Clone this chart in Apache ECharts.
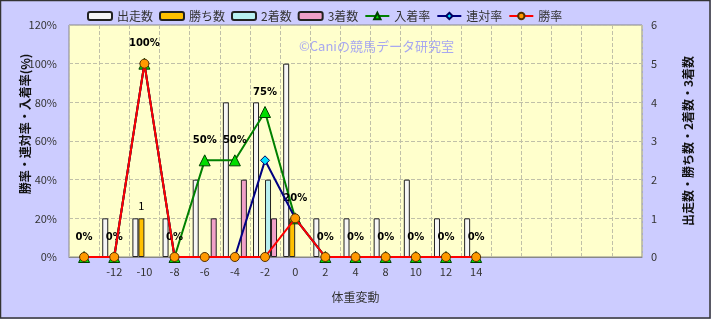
<!DOCTYPE html>
<html><head><meta charset="utf-8">
<script src="https://cdn.jsdelivr.net/npm/echarts@6/dist/echarts.min.js"></script>
<style>html,body{margin:0;padding:0;background:#ccccff}#c{width:711px;height:319px}</style>
</head><body><div id="c"></div>
<script>
const categories = ['', '-12', '-10', '-8', '-6', '-4', '-2', '0', '2', '4', '8', '10', '12', '14', ' ', '  ', '   ', '    ', '     '];
const starts   = [0, 1, 1, 1, 2, 4, 4, 5, 1, 1, 1, 2, 1, 1, null, null, null, null, null];
const wins     = [0, 0, 1, 0, 0, 0, 0, 1, 0, 0, 0, 0, 0, 0, null, null, null, null, null];
const seconds  = [0, 0, 0, 0, 0, 0, 2, 0, 0, 0, 0, 0, 0, 0, null, null, null, null, null];
const thirds   = [0, 0, 0, 0, 1, 2, 1, 0, 0, 0, 0, 0, 0, 0, null, null, null, null, null];
const placeRate = [0, 0, 100, 0, 50, 50, 75, 20, 0, 0, 0, 0, 0, 0, null, null, null, null, null];
const rentaiRate = [0, 0, 100, 0, 0, 0, 50, 20, 0, 0, 0, 0, 0, 0, null, null, null, null, null];
const winRate  = [0, 0, 100, 0, 0, 0, 0, 20, 0, 0, 0, 0, 0, 0, null, null, null, null, null];
const leftTicks = [0, 20, 40, 60, 80, 100, 120];
const rightTicks = [0, 1, 2, 3, 4, 5, 6];

const FONT = '"Noto Sans CJK JP", "Noto Sans", sans-serif';
const chart = echarts.init(document.getElementById('c'));
const barStyle = (c) => ({ color: c, borderColor: '#222', borderWidth: 1 });
// zero-count bars are not drawn (as in the reference)
const bars = (arr) => arr.map(v => (v === 0 ? null : v));
const winsData = bars(wins).map((v, i) => i === 2 ? { value: v, label: { show: true, position: 'top', distance: 7, color: '#000', fontSize: 11, fontFamily: FONT } } : v);

chart.setOption({
  backgroundColor: '#ccccff',
  textStyle: { fontFamily: FONT },
  animation: false,
  legend: {
    left: 82, top: 5,
    itemGap: 6,
    itemWidth: 24, itemHeight: 8,
    textStyle: { fontSize: 12, color: '#333', fontFamily: FONT },
    data: ['出走数', '勝ち数', '2着数', '3着数', '入着率', '連対率', '勝率']
  },
  grid: { left: 69, right: 69, top: 25, bottom: 62, show: true, backgroundColor: '#ffffcc', borderColor: '#888', borderWidth: 1 },
  xAxis: {
    type: 'category', data: categories,
    name: '体重変動', nameLocation: 'middle', nameGap: 34,
    nameTextStyle: { fontSize: 12, color: '#333', fontFamily: FONT },
    axisLine: { lineStyle: { color: '#888' } },
    axisTick: { show: false },
    axisLabel: { color: '#333', fontSize: 11, margin: 9 },
    splitLine: { show: true, lineStyle: { color: '#c0c0a8', type: 'dashed' } }
  },
  yAxis: [
    {
      type: 'value', min: 0, max: 120, interval: 20,
      axisLine: { show: false }, axisTick: { show: false },
      axisLabel: { color: '#333', fontSize: 11, formatter: '{value}%', margin: 12 },
      splitLine: { show: true, lineStyle: { color: '#c0c0a8', type: 'dashed' } }
    },
    {
      type: 'value', min: 0, max: 6, interval: 1,
      name: '出走数・勝ち数・2着数・3着数', nameLocation: 'middle', nameGap: 40, nameRotate: 90,
      nameTextStyle: { fontSize: 12, color: '#111', fontWeight: 'bold', fontFamily: FONT },
      axisLine: { show: false }, axisTick: { show: false },
      axisLabel: { color: '#333', fontSize: 11, margin: 9 },
      splitLine: { show: false }
    }
  ],
  graphic: [
    { type: 'text', left: 299, top: 40, z: 1, style: { text: '©Caniの競馬データ研究室', fill: '#a8a8f0', font: '13px ' + FONT } },
    { type: 'text', x: 25, y: 124, rotation: Math.PI / 2, z: 10,
      style: { text: '勝率・連対率・入着率(%)', fill: '#111', font: 'bold 12px ' + FONT, align: 'center', verticalAlign: 'middle' } },
    { type: 'rect', shape: { x: 0.5, y: 0.5, width: 709.5, height: 317.5 }, style: { fill: 'none', stroke: '#333', lineWidth: 1.5 }, silent: true }
  ],
  series: [
    { name: '出走数', type: 'bar', yAxisIndex: 1, data: bars(starts), barWidth: 6, barGap: '0%', itemStyle: barStyle('#f6f6f6') },
    { name: '勝ち数', type: 'bar', yAxisIndex: 1, data: winsData, barWidth: 6, barGap: '0%', itemStyle: barStyle('#ffc000') },
    { name: '2着数', type: 'bar', yAxisIndex: 1, data: bars(seconds), barWidth: 6, barGap: '0%', itemStyle: barStyle('#b8f0f0') },
    { name: '3着数', type: 'bar', yAxisIndex: 1, data: bars(thirds), barWidth: 6, barGap: '0%', itemStyle: barStyle('#f0a0c8') },
    { name: '入着率', type: 'line', yAxisIndex: 0, data: placeRate, z: 3,
      symbol: 'triangle', symbolSize: 11, showAllSymbol: true,
      lineStyle: { color: '#008000', width: 2 },
      itemStyle: { color: '#00dd00', borderColor: '#004000', borderWidth: 1 },
      label: { show: true, position: 'top', distance: 9, formatter: '{c}%', color: '#000', fontSize: 10, fontWeight: 'bold', fontFamily: '"DejaVu Sans", sans-serif' } },
    { name: '連対率', type: 'line', yAxisIndex: 0, data: rentaiRate, z: 4,
      symbol: 'diamond', symbolSize: 9, showAllSymbol: true,
      lineStyle: { color: '#000080', width: 2 },
      itemStyle: { color: '#00e0ff', borderColor: '#000060', borderWidth: 1 } },
    { name: '勝率', type: 'line', yAxisIndex: 0, data: winRate, z: 5,
      symbol: 'circle', symbolSize: 9, showAllSymbol: true,
      lineStyle: { color: '#ff0000', width: 2 },
      itemStyle: { color: '#ff9900', borderColor: '#553300', borderWidth: 1 } }
  ]
});
</script></body></html>
